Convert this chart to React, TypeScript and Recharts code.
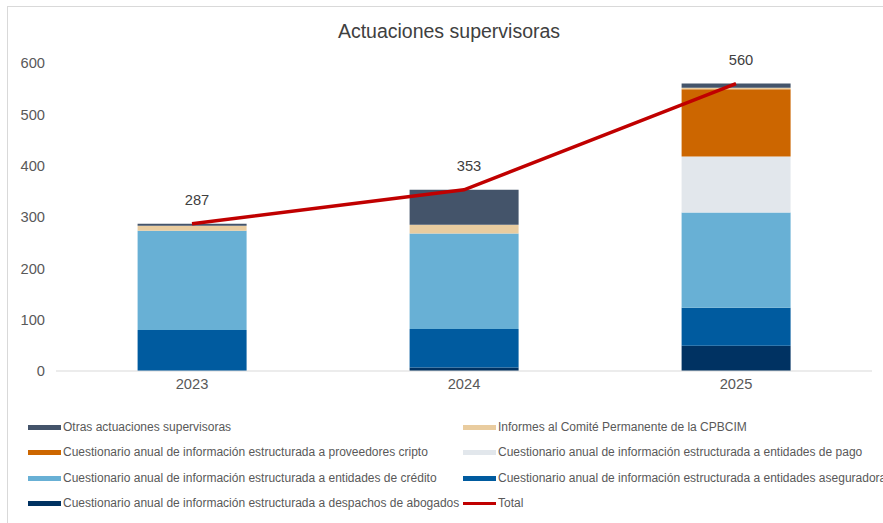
import React from 'react';
import { ComposedChart, Bar, Line, XAxis, YAxis, LabelList } from 'recharts';

// Actuaciones supervisoras por año
const years = ['2023', '2024', '2025'];
const despachos = [0, 7, 49];
const aseguradoras = [80, 75, 74];
const credito = [193, 186, 186];
const pago = [0, 0, 109];
const cripto = [0, 0, 131];
const informes = [10, 17, 3];
const otras = [4, 68, 8];
const total = [287, 353, 560];
const yTicks = [0, 100, 200, 300, 400, 500, 600];

const series = [
  { key: 'despachos', name: 'Cuestionario anual de información estructurada a despachos de abogados', color: '#003262' },
  { key: 'aseguradoras', name: 'Cuestionario anual de información estructurada a entidades aseguradoras', color: '#005B9F' },
  { key: 'credito', name: 'Cuestionario anual de información estructurada a entidades de crédito', color: '#68B0D5' },
  { key: 'pago', name: 'Cuestionario anual de información estructurada a entidades de pago', color: '#E2E7EC' },
  { key: 'cripto', name: 'Cuestionario anual de información estructurada a proveedores cripto', color: '#CC6600' },
  { key: 'informes', name: 'Informes al Comité Permanente de la CPBCIM', color: '#E9CC9F' },
  { key: 'otras', name: 'Otras actuaciones supervisoras', color: '#44546A' },
];

const TOTAL_COLOR = '#C00000';
const FONT = '"Liberation Sans", Arial, sans-serif';

const data = years.map((year, i) => ({
  year,
  despachos: despachos[i],
  aseguradoras: aseguradoras[i],
  credito: credito[i],
  pago: pago[i],
  cripto: cripto[i],
  informes: informes[i],
  otras: otras[i],
  total: total[i],
}));

// legend order as in the original (two columns, row by row)
const legendOrder = ['otras', 'informes', 'cripto', 'pago', 'credito', 'aseguradoras', 'despachos', 'total'];

function ChartLegend() {
  const items = legendOrder.map(k => {
    if (k === 'total') return { key: k, name: 'Total', color: TOTAL_COLOR, line: true };
    const s = series.find(x => x.key === k)!;
    return { key: k, name: s.name, color: s.color, line: false };
  });
  return (
    <div style={{ position: 'absolute', left: 28, top: 419, width: 860, fontFamily: FONT, fontSize: 12, color: '#595959' }}>
      {items.map((it, i) => (
        <div
          key={it.key}
          style={{
            position: 'absolute',
            left: i % 2 === 0 ? 0 : 435,
            top: Math.round(Math.floor(i / 2) * 25.3),
            display: 'flex',
            alignItems: 'center',
            whiteSpace: 'nowrap',
            height: 16,
          }}
        >
          <span style={{ display: 'inline-block', width: 33, height: it.line ? 3 : 5, background: it.color, marginRight: 2 }} />
          {it.name}
        </div>
      ))}
    </div>
  );
}

export default function App() {
  return (
    <div style={{ position: 'absolute', left: 0, top: 0, width: 883, height: 523, overflow: 'hidden', background: '#fff' }}>
      <div style={{ position: 'absolute', left: 7, top: 6, width: 920, height: 560, border: '1px solid #d9d9d9' }} />
      <div
        style={{
          position: 'absolute', left: 0, top: 20, width: 898, textAlign: 'center',
          fontFamily: FONT, fontSize: 19.5, color: '#404040',
        }}
      >
        Actuaciones supervisoras
      </div>
      <div style={{ position: 'absolute', left: 0, top: 0 }}>
        <ComposedChart
          width={883}
          height={523}
          data={data}
          margin={{ top: 63, right: 11, bottom: 122, left: 0 }}
          barCategoryGap="30%"
        >
          <XAxis
            dataKey="year"
            axisLine={{ stroke: '#d9d9d9' }}
            tickLine={false}
            tickMargin={2}
            height={30}
            tick={{ fill: '#595959', fontSize: 14.7, fontFamily: FONT }}
          />
          <YAxis
            width={56}
            domain={[0, 600]}
            ticks={yTicks}
            axisLine={false}
            tickLine={false}
            tickMargin={5}
            tick={{ fill: '#595959', fontSize: 14.7, fontFamily: FONT }}
          />
          {series.map(s => (
            <Bar key={s.key} dataKey={s.key} name={s.name} stackId="a" fill={s.color} isAnimationActive={false} />
          ))}
          <Line
            type="linear"
            dataKey="total"
            name="Total"
            stroke={TOTAL_COLOR}
            strokeWidth={3.5}
            dot={false}
            activeDot={false}
            isAnimationActive={false}
          >
            <LabelList
              dataKey="total"
              position="top"
              offset={19}
              dx={5}
              style={{ fill: '#404040', fontSize: 14.7, fontFamily: FONT }}
            />
          </Line>
        </ComposedChart>
      </div>
      <ChartLegend />
    </div>
  );
}
